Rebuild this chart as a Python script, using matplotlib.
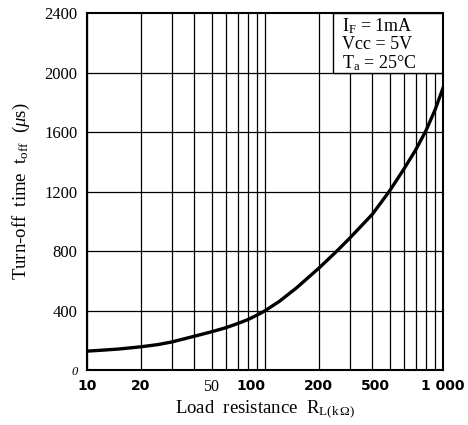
import matplotlib.pyplot as plt
import matplotlib.transforms as mtransforms
from matplotlib.patches import Rectangle

plt.rcParams["mathtext.fontset"] = "custom"
plt.rcParams["mathtext.rm"] = "Liberation Serif"
plt.rcParams["mathtext.it"] = "Liberation Serif:italic"
plt.rcParams["mathtext.default"] = "regular"

# data
r_load = [10, 12, 15, 20, 25, 30, 40, 50, 60, 70, 80, 90, 100, 120, 150, 200,
          250, 300, 400, 500, 600, 700, 800, 900, 1000]
t_off = [128, 134, 142, 157, 172, 190, 228, 258, 285, 313, 340, 370, 400, 462, 553, 685,
         795, 890, 1048, 1205, 1350, 1480, 1610, 1750, 1900]

x_ticks = [10, 20, 50, 100, 200, 500, 1000]
x_labels = ["10", "20", "50", "100", "200", "500", "1 000"]
y_ticks = [0, 400, 800, 1200, 1600, 2000, 2400]
grid_x = [m * d for d in (10, 100) for m in range(1, 10)]

serif = "Liberation Serif"

fig = plt.figure(figsize=(4.68, 4.25), dpi=100)
ax = fig.add_axes([0.186, 0.129, 0.761, 0.840])

ax.plot(r_load, t_off, color="black", lw=2.4, solid_joinstyle="round", zorder=3)

ax.set_xscale("log")
ax.set_xlim(10, 1000)
ax.set_ylim(0, 2400)

# grid
for gx in grid_x:
    ax.axvline(gx, color="black", lw=0.9, zorder=1)
for y in y_ticks[1:-1]:
    ax.axhline(y, color="black", lw=0.9, zorder=1)

ax.set_xticks(x_ticks)
ax.set_xticks([], minor=True)
ax.set_xticklabels(x_labels)
for lab, txt in zip(ax.get_xticklabels(), x_labels):
    if txt == "50":
        lab.set_fontfamily(serif)
        lab.set_fontsize(11.5)
    else:
        lab.set_fontfamily("DejaVu Sans")
        lab.set_fontweight("bold")
        lab.set_fontsize(10)
    if txt in ("100", "500"):
        lab.set_horizontalalignment("right")
    if txt == "1 000":
        lab.set_transform(lab.get_transform() +
                          mtransforms.ScaledTranslation(-0.14, 0, fig.dpi_scale_trans))

ax.set_yticks(y_ticks)
ax.set_yticklabels([str(v) for v in y_ticks], fontfamily=serif, fontsize=12)
zero = ax.get_yticklabels()[0]
zero.set_fontstyle("italic")
zero.set_fontsize(9)
ax.tick_params(length=0)
ax.tick_params(axis="y", pad=7)
ax.tick_params(axis="x", pad=6)

for s in ax.spines.values():
    s.set_linewidth(1.5)
    s.set_zorder(6)

ax.set_ylabel(r"Turn-off  time  t$_{off}$  ($\mathit{\mu}$s)", fontfamily=serif,
              fontsize=13.5, labelpad=9)
ax.set_xlabel(r"Load  resistance  R$_{L(k\,\Omega)}$", fontfamily=serif,
              fontsize=13.5, labelpad=3)

# condition box
ax.add_patch(Rectangle((0.69, 2000), 0.31, 400, transform=ax.get_yaxis_transform(),
                       fc="white", ec="black", lw=1.0, zorder=4))
cond = ["I$_F$ = 1mA", "Vcc = 5V", "T$_a$ = 25\u00b0C"]
for i, line in enumerate(cond):
    ax.text(0.715, 0.965 - i * 0.052, line, transform=ax.transAxes, ha="left", va="center",
            fontfamily=serif, fontsize=13, zorder=5)

fig.savefig("out.png", dpi=100)
